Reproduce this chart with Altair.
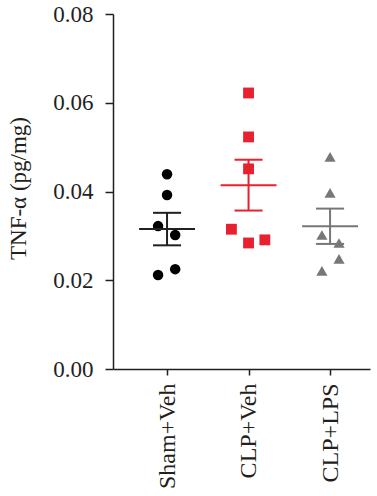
import altair as alt
import pandas as pd
import numpy as np

groups = ["Sham+Veh", "CLP+Veh", "CLP+LPS"]
sham_veh = [0.0439, 0.0392, 0.0322, 0.0302, 0.0225, 0.0212]
clp_veh = [0.0622, 0.0523, 0.0451, 0.0315, 0.0284, 0.0291]
clp_lps = [0.0478, 0.0397, 0.0302, 0.0284, 0.0248, 0.0221]
# horizontal scatter of the dots within each group (in group units)
sham_jitter = [0.0, 0.0, -0.11, 0.10, 0.10, -0.11]
clp_veh_jitter = [0.0, 0.0, 0.0, -0.21, 0.0, 0.20]
clp_lps_jitter = [0.0, 0.0, -0.10, 0.11, 0.11, -0.10]

colors = ["#000000", "#e8212e", "#777777"]
shapes = ["circle", "square", "triangle-up"]
sizes = [110, 125, 95]
line_colors = ["#231f20", "#e8212e", "#777777"]

rows = []
for i, (g, vals, jit) in enumerate(zip(groups, [sham_veh, clp_veh, clp_lps],
                                        [sham_jitter, clp_veh_jitter, clp_lps_jitter])):
    for v, j in zip(vals, jit):
        rows.append({"group": g, "idx": i, "xpos": i + j, "value": v})
pts = pd.DataFrame(rows)

stats = []
for i, g in enumerate(groups):
    v = np.array(pts[pts.group == g].value)
    m = v.mean()
    se = v.std(ddof=1) / np.sqrt(len(v))
    stats.append({"group": g, "idx": i, "mean": m, "lo": m - se, "hi": m + se,
                  "mx1": i - 0.343, "mx2": i + 0.343, "cx1": i - 0.172, "cx2": i + 0.172})
st = pd.DataFrame(stats)

xscale = alt.Scale(domain=[-0.663, 2.49], nice=False, zero=False)
yscale = alt.Scale(domain=[0, 0.08], nice=False)
color_scale = alt.Scale(domain=groups, range=colors)
line_scale = alt.Scale(domain=groups, range=line_colors)
shape_scale = alt.Scale(domain=groups, range=shapes)

FONT = "Liberation Serif"

x_axis = alt.Axis(values=[0, 1, 2],
                  labelExpr="datum.value == 0 ? 'Sham+Veh' : datum.value == 1 ? 'CLP+Veh' : 'CLP+LPS'",
                  labelAngle=-90, labelAlign="right", labelBaseline="middle",
                  labelFont=FONT, labelFontSize=24, labelColor="#231f20",
                  tickSize=6, tickColor="#231f20", tickWidth=1.5,
                  domainColor="#231f20", domainWidth=1.5, labelPadding=8,
                  labelOverlap=False, labelBound=False,
                  grid=False, title=None)
y_axis = alt.Axis(values=[0, 0.02, 0.04, 0.06, 0.08], format=".2f",
                  labelFont=FONT, labelFontSize=23, labelColor="#231f20",
                  tickSize=8, tickColor="#231f20", tickWidth=1.5,
                  domainColor="#231f20", domainWidth=1.5, labelPadding=12,
                  grid=False, title="TNF-α (pg/mg)", titleFont=FONT,
                  titleFontSize=23, titleFontWeight="normal", titleColor="#231f20",
                  titleAngle=270, titleAlign="center", titleBaseline="middle",
                  titleX=-95, titleY=174)

base_pts = alt.Chart(pts).mark_point(filled=True, opacity=1).encode(
    x=alt.X("xpos:Q", scale=xscale, axis=x_axis),
    y=alt.Y("value:Q", scale=yscale, axis=y_axis),
    color=alt.Color("group:N", scale=color_scale, legend=None),
    shape=alt.Shape("group:N", scale=shape_scale, legend=None),
    size=alt.Size("group:N", scale=alt.Scale(domain=groups, range=sizes), legend=None),
)

mean_line = alt.Chart(st).mark_rule(strokeWidth=2).encode(
    x=alt.X("mx1:Q", scale=xscale), x2="mx2:Q",
    y=alt.Y("mean:Q", scale=yscale),
    color=alt.Color("group:N", scale=line_scale, legend=None),
)
err_v = alt.Chart(st).mark_rule(strokeWidth=2).encode(
    x=alt.X("idx:Q", scale=xscale),
    y=alt.Y("lo:Q", scale=yscale), y2="hi:Q",
    color=alt.Color("group:N", scale=line_scale, legend=None),
)
cap_hi = alt.Chart(st).mark_rule(strokeWidth=2).encode(
    x=alt.X("cx1:Q", scale=xscale), x2="cx2:Q",
    y=alt.Y("hi:Q", scale=yscale),
    color=alt.Color("group:N", scale=line_scale, legend=None),
)
cap_lo = alt.Chart(st).mark_rule(strokeWidth=2).encode(
    x=alt.X("cx1:Q", scale=xscale), x2="cx2:Q",
    y=alt.Y("lo:Q", scale=yscale),
    color=alt.Color("group:N", scale=line_scale, legend=None),
)

chart = alt.layer(base_pts, mean_line, err_v, cap_hi, cap_lo).resolve_scale(
    color="independent"
).properties(
    width=257, height=355,
    autosize=alt.AutoSizeParams(type="none"),
    padding={"left": 113, "top": 14, "right": 7, "bottom": 127},
    background="white",
).configure_view(stroke=None)

chart.save("out.html", embed_options={"renderer": "svg", "actions": False})
